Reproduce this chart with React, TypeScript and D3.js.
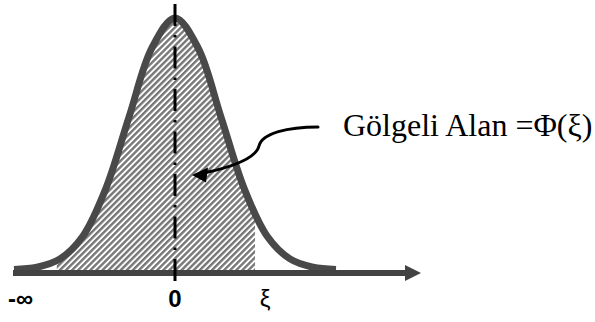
import React from "react";
import * as d3 from "d3";

// Standard normal curve, sampled in z units; heights relative to the peak.
const curveZ = [-3.5, -3, -2.5, -2, -1.5, -1, -0.5, 0, 0.5, 1, 1.5, 2, 2.5, 3, 3.5];
const curveH = [0.002, 0.011, 0.044, 0.135, 0.325, 0.607, 0.882, 1, 0.882, 0.607, 0.325, 0.135, 0.044, 0.011, 0.002];

// Shaded interval (lower edge where the hatch becomes visible, upper edge at ξ)
const shadeFrom = -2.57;
const xi = 1.74;

const tickValues = [-3.5, 0, xi];
const tickLabels = ["-∞", "0", "ξ"];

const annotation = "Gölgeli Alan =Φ(ξ)";

const W = 595;
const H = 322;

export default function App() {
  const x = d3.scaleLinear().domain([-3.5, 3.5]).range([14, 336]);
  const y = d3.scaleLinear().domain([0, 1]).range([270, 18]);

  const pts: [number, number][] = curveZ.map((z, i) => [z, curveH[i]]);

  const line = d3
    .line<[number, number]>()
    .x((d) => x(d[0]))
    .y((d) => y(d[1]))
    .curve(d3.curveCatmullRom.alpha(0.5));

  const area = d3
    .area<[number, number]>()
    .x((d) => x(d[0]))
    .y0(272)
    .y1((d) => y(d[1]))
    .curve(d3.curveCatmullRom.alpha(0.5));

  const axisY = 273;
  const labelAnchor = ["start", "middle", "middle"];
  const labelDx = [-6, 0, 10];

  return (
    <svg
      width={W}
      height={H}
      viewBox={`0 0 ${W} ${H}`}
      style={{ position: "absolute", left: 0, top: 0, background: "#fff" }}
    >
      <defs>
        <pattern
          id="hatch"
          width={4.3}
          height={10}
          patternUnits="userSpaceOnUse"
          patternTransform="rotate(45)"
        >
          <rect x={0} y={0} width={4.3} height={10} fill="#ffffff" />
          <rect x={0} y={0} width={2.4} height={10} fill="#777777" />
        </pattern>
        <clipPath id="shadeClip">
          <rect x={x(shadeFrom)} y={0} width={x(xi) - x(shadeFrom)} height={H} />
        </clipPath>
      </defs>

      {/* hatched area under the curve up to ξ */}
      <path d={area(pts) ?? ""} fill="url(#hatch)" clipPath="url(#shadeClip)" />

      {/* density curve */}
      <path
        d={line(pts) ?? ""}
        fill="none"
        stroke="#494949"
        strokeWidth={7}
        strokeLinejoin="round"
      />

      {/* horizontal axis with arrowhead */}
      <line x1={13} x2={408} y1={axisY} y2={axisY} stroke="#434343" strokeWidth={6} />
      <polygon
        points={`405,${axisY - 8} 421,${axisY} 405,${axisY + 8}`}
        fill="#434343"
      />

      {/* mean line */}
      <line
        x1={x(0)}
        x2={x(0)}
        y1={4}
        y2={281}
        stroke="#000"
        strokeWidth={3}
        strokeDasharray="22,9,2.5,9"
      />

      {/* axis labels */}
      {tickValues.map((v, i) => (
        <text
          key={i}
          x={x(v) + labelDx[i]}
          y={307}
          textAnchor={labelAnchor[i]}
          fontFamily="'Liberation Sans', Arial, sans-serif"
          fontSize={24}
          fontWeight={i === 2 ? "normal" : "bold"}
          fill="#000"
        >
          {tickLabels[i]}
        </text>
      ))}

      {/* annotation arrow */}
      <path
        d="M318,127 C288,127 262,133 259,146 C256,158 232,167 204,173"
        fill="none"
        stroke="#000"
        strokeWidth={3}
        strokeLinecap="round"
      />
      <polygon points="192,175 208,167.5 206,182.5" fill="#000" />

      <text
        x={343}
        y={136}
        fontFamily="'Liberation Serif', 'Times New Roman', serif"
        fontSize={32}
        fill="#000"
      >
        {annotation}
      </text>
    </svg>
  );
}
